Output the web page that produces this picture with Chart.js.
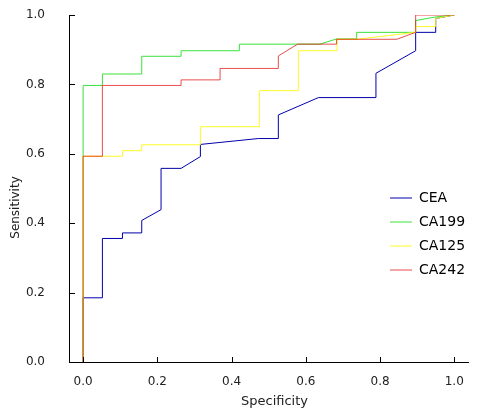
<!DOCTYPE html>
<html>
<head>
<meta charset="utf-8">
<script src="https://cdn.jsdelivr.net/npm/chart.js@4/dist/chart.umd.min.js"></script>
<style>
html,body{margin:0;padding:0;background:#fff;}
canvas{display:block;}
</style>
</head>
<body>
<canvas id="c" width="503" height="417"></canvas>
<script>
// ---- data ----
const seriesNames = ["CEA", "CA199", "CA125", "CA242"];

const ceaX = [0, 0, 0.052, 0.052, 0.106, 0.106, 0.158, 0.158, 0.21, 0.21, 0.264, 0.316, 0.316, 0.472, 0.526, 0.526, 0.634, 0.789, 0.789, 0.896, 0.896, 0.95, 0.95, 1.0];
const ceaY = [0, 0.185, 0.185, 0.356, 0.356, 0.372, 0.372, 0.408, 0.439, 0.558, 0.558, 0.592, 0.627, 0.644, 0.644, 0.712, 0.762, 0.762, 0.832, 0.897, 0.95, 0.95, 0.99, 1.0];

const ca199X = [0, 0, 0.052, 0.052, 0.158, 0.158, 0.264, 0.264, 0.421, 0.421, 0.578, 0.638, 0.683, 0.737, 0.737, 0.896, 0.896, 0.948, 1.0];
const ca199Y = [0, 0.797, 0.797, 0.83, 0.83, 0.881, 0.881, 0.897, 0.897, 0.916, 0.916, 0.916, 0.931, 0.931, 0.95, 0.95, 0.984, 0.994, 1.0];

const ca125X = [0, 0, 0.106, 0.106, 0.158, 0.158, 0.316, 0.316, 0.475, 0.475, 0.58, 0.58, 0.684, 0.684, 0.737, 0.896, 0.896, 0.95, 0.95, 1.0];
const ca125Y = [0, 0.593, 0.593, 0.609, 0.609, 0.626, 0.626, 0.678, 0.678, 0.782, 0.782, 0.897, 0.897, 0.93, 0.93, 0.95, 0.967, 0.967, 0.99, 1.0];

const ca242X = [0, 0, 0.052, 0.052, 0.264, 0.264, 0.369, 0.369, 0.526, 0.526, 0.578, 0.683, 0.683, 0.845, 0.896, 0.896, 1.0];
const ca242Y = [0, 0.593, 0.593, 0.797, 0.797, 0.813, 0.813, 0.846, 0.846, 0.882, 0.916, 0.916, 0.93, 0.93, 0.95, 1.0, 1.0];

const tickValues = [0, 0.2, 0.4, 0.6, 0.8, 1.0];
const xTitle = "Specificity";
const yTitle = "Sensitivity";

const seriesColors = ["rgb(0,0,170)", "rgb(60,225,60)", "rgb(255,250,40)", "rgba(225,10,10,0.72)"];
const drawOrder = [4, 3, 2, 1];

function pts(xs, ys) { return xs.map((x, i) => ({x: x, y: ys[i]})); }
const seriesData = [pts(ceaX, ceaY), pts(ca199X, ca199Y), pts(ca125X, ca125Y), pts(ca242X, ca242Y)];

const datasets = seriesNames.map((n, i) => ({
  label: n,
  data: seriesData[i],
  borderColor: seriesColors[i],
  backgroundColor: seriesColors[i],
  borderWidth: 1,
  pointRadius: 0,
  tension: 0,
  fill: false,
  order: drawOrder[i]
}));

// inward tick marks
const innerTicks = {
  id: 'innerTicks',
  afterDraw(chart) {
    const ctx = chart.ctx;
    const xs = chart.scales.x, ys = chart.scales.y;
    const a = chart.chartArea;
    ctx.save();
    ctx.strokeStyle = '#000';
    ctx.lineWidth = 1;
    ctx.beginPath();
    tickValues.forEach(v => {
      const px = Math.round(xs.getPixelForValue(v)) + 0.5;
      ctx.moveTo(px, a.bottom);
      ctx.lineTo(px, a.bottom - 5);
      const py = Math.round(ys.getPixelForValue(v)) + 0.5;
      ctx.moveTo(a.left, py);
      ctx.lineTo(a.left + 6, py);
    });
    ctx.stroke();
    ctx.restore();
  }
};

// place the legend inside the plot, lower right; nudge axis titles
const legendPlace = {
  id: 'legendPlace',
  afterLayout(chart) {
    const lg = chart.legend;
    if (lg) {
      const w = lg.width, h = 110;
      lg.left = 380; lg.top = 181;
      lg.right = lg.left + w; lg.bottom = lg.top + h;
      lg.height = h;
    }
    const shifts = { x: [6, 0], y: [0, 19] };
    Object.keys(shifts).forEach(id => {
      const s = chart.scales[id];
      if (s && !s._titleShifted) {
        const orig = s.drawTitle.bind(s);
        s.drawTitle = function () {
          this.ctx.save();
          this.ctx.translate(shifts[id][0], shifts[id][1]);
          orig();
          this.ctx.restore();
        };
        s._titleShifted = true;
      }
    });
  }
};

new Chart(document.getElementById('c'), {
  type: 'line',
  data: { datasets: datasets },
  plugins: [innerTicks, legendPlace],
  options: {
    responsive: false,
    animation: false,
    layout: { padding: { left: 0, top: 15, right: 35, bottom: 0 } },
    plugins: {
      tooltip: { enabled: false },
      legend: {
        display: true,
        position: 'chartArea',
        align: 'start',
        labels: {
          usePointStyle: true,
          pointStyle: 'line',
          pointStyleWidth: 22,
          padding: 10,
          color: '#000',
          font: { family: 'DejaVu Sans', size: 14 },
          sort: (a, b) => a.datasetIndex - b.datasetIndex
        }
      }
    },
    scales: {
      x: {
        type: 'linear',
        min: -0.038,
        max: 1.037,
        afterBuildTicks(s) { s.ticks = tickValues.map(v => ({value: v})); },
        afterFit(s) { s.height = 55; },
        grid: { display: false },
        border: { display: true, color: '#000', width: 1 },
        ticks: {
          color: '#222',
          padding: 5,
          maxRotation: 0,
          font: { family: 'DejaVu Sans', size: 12 },
          callback: v => Number(v).toFixed(1)
        },
        title: {
          display: true,
          text: xTitle,
          color: '#222',
          font: { family: 'DejaVu Sans', size: 13 },
          padding: { top: 0, bottom: 7.5 }
        }
      },
      y: {
        type: 'linear',
        min: 0,
        max: 1,
        afterBuildTicks(s) { s.ticks = tickValues.map(v => ({value: v})); },
        afterFit(s) { s.width = 69; s.paddingTop = 7; s.paddingBottom = 7; },
        grid: { display: false },
        border: { display: true, color: '#000', width: 1 },
        ticks: {
          color: '#222',
          padding: 16,
          font: { family: 'DejaVu Sans', size: 12 },
          callback: v => Number(v).toFixed(1)
        },
        title: {
          display: true,
          text: yTitle,
          color: '#222',
          font: { family: 'DejaVu Sans', size: 12 },
          padding: { top: 8.5, bottom: 0 }
        }
      }
    }
  }
});
</script>
</body>
</html>
